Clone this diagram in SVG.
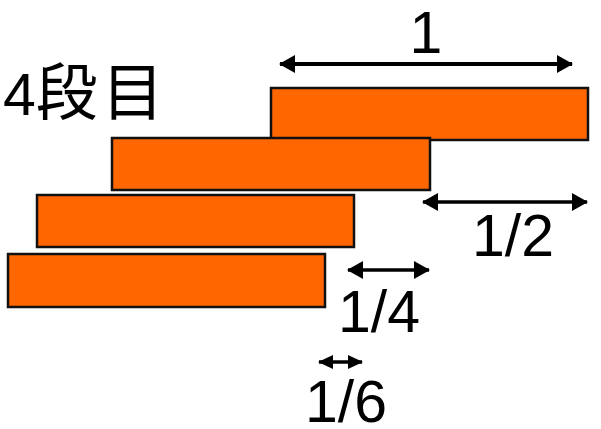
<svg xmlns="http://www.w3.org/2000/svg" width="601" height="429" viewBox="0 0 601 429">
  <style>
    .block { fill: #ff6600; stroke: #111111; stroke-width: 2.5; }
    .dim { stroke: #000000; fill: none; }
    .label { font-family: "Liberation Sans", "Noto Sans CJK JP", Arial, sans-serif; font-size: 59px; fill: #000000; }
  </style>
  <defs>
    <marker id="head" viewBox="0 0 16 18" refX="15" refY="9" markerWidth="16" markerHeight="18" orient="auto-start-reverse" markerUnits="userSpaceOnUse">
      <path d="M0,0 L16,9 L0,18 Z" fill="#000000"/>
    </marker>
    <marker id="head-small" viewBox="0 0 15 14" refX="14" refY="7" markerWidth="15" markerHeight="14" orient="auto-start-reverse" markerUnits="userSpaceOnUse">
      <path d="M0,0 L15,7 L0,14 Z" fill="#000000"/>
    </marker>
  </defs>

  <!-- stacked blocks, each shifted right by a fraction of its length -->
  <g id="block4">
    <rect class="block" x="271" y="88" width="317" height="52"/>
  </g>
  <g id="block3">
    <rect class="block" x="112" y="138" width="318" height="52"/>
  </g>
  <g id="block2">
    <rect class="block" x="37" y="195" width="317" height="52"/>
  </g>
  <g id="block1">
    <rect class="block" x="8" y="254" width="317" height="53"/>
  </g>

  <!-- dimension arrows -->
  <g id="connectors">
    <line class="dim" x1="280" y1="64" x2="572" y2="64" stroke-width="4" marker-start="url(#head)" marker-end="url(#head)"/>
    <line class="dim" x1="423" y1="202" x2="587" y2="202" stroke-width="3.5" marker-start="url(#head)" marker-end="url(#head)"/>
    <line class="dim" x1="348" y1="270" x2="429" y2="270" stroke-width="3.5" marker-start="url(#head)" marker-end="url(#head)"/>
    <line class="dim" x1="319" y1="362" x2="362" y2="362" stroke-width="3.5" marker-start="url(#head-small)" marker-end="url(#head-small)"/>
  </g>

  <!-- labels -->
  <g id="labels">
    <text class="label" x="3" y="115">4<tspan font-size="62" letter-spacing="4">段目</tspan></text>
    <text class="label" x="426" y="53" text-anchor="middle">1</text>
    <text class="label" x="513" y="256" text-anchor="middle">1/2</text>
    <text class="label" x="379" y="332" text-anchor="middle">1/4</text>
    <text class="label" x="346" y="422" text-anchor="middle">1/6</text>
  </g>
</svg>
